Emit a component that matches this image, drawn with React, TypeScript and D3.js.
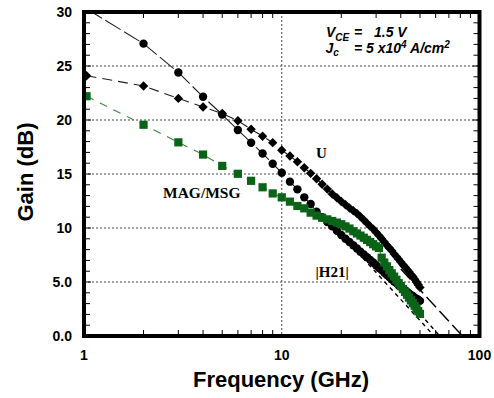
import React from "react";
import * as d3 from "d3";

// Frequency points (GHz)
const freqs = [
  1.03, 2, 3, 4, 5, 6, 7, 8, 9, 10, 11, 12, 13, 14, 15, 16, 17, 18, 19, 20, 21,
  22, 23, 24, 25, 26, 27, 28, 29, 30, 31, 32, 33, 34, 35, 36, 37, 38, 39, 40, 41,
  42, 43, 44, 45, 46, 47, 48, 49, 50,
];

// |H21| (dB) - circles
const h21 = [
  30.3, 27.07, 24.4, 22.15, 20.5, 19.07, 17.9, 16.9, 15.95, 15.12, 14.29, 13.58,
  12.84, 12.22, 11.5, 11.0, 10.55, 10.15, 9.75, 9.35, 9.0, 8.7, 8.4, 8.1, 7.8,
  7.55, 7.3, 7.05, 6.8, 6.55, 6.3, 6.1, 5.85, 5.65, 5.45, 5.25, 5.05, 4.9, 4.7,
  4.55, 4.4, 4.25, 4.1, 3.95, 3.8, 3.7, 3.55, 3.45, 3.35, 3.25,
];

// U (dB) - diamonds
const uGain = [
  24.1, 23.15, 22.0, 21.2, 20.6, 19.93, 19.14, 18.5, 17.9, 17.2, 16.67, 16.14,
  15.58, 15.06, 14.56, 14.05, 13.6, 13.15, 12.8, 12.45, 12.15, 11.85, 11.6,
  11.35, 11.05, 10.75, 10.45, 10.15, 9.9, 9.6, 9.3, 9.0, 8.7, 8.4, 8.15, 7.9,
  7.6, 7.35, 7.1, 6.85, 6.6, 6.4, 6.15, 5.95, 5.7, 5.5, 5.25, 5.0, 4.75, 4.5,
];

// MAG/MSG (dB) - green squares
const mag = [
  22.2, 19.56, 17.93, 16.8, 15.75, 15.02, 14.37, 13.77, 13.2, 12.84, 12.44,
  12.04, 11.82, 11.42, 11.15, 10.95, 10.8, 10.65, 10.5, 10.35, 10.15, 9.95, 9.7,
  9.5, 9.3, 9.1, 8.9, 8.7, 8.5, 8.3, 8.15, 7.25, 6.8, 6.45, 6.1, 5.8, 5.5, 5.2,
  4.9, 4.62, 4.35, 4.08, 3.82, 3.56, 3.3, 3.05, 2.8, 2.55, 2.3, 2.05,
];

// -20 dB/dec extrapolation lines [freq, gain]
const uFit: [number, number][] = [[40, 6.2], [82, 0]];
const h21Fit: [number, number][] = [[20, 9.4], [59, 0]];
const magFit: [number, number][] = [[50, 2.05], [63, 0]];

const yTicks = [0, 5, 10, 15, 20, 25, 30];
const yTickLabels = ["0.0", "5.0", "10", "15", "20", "25", "30"];
const yGrid = [5, 10, 15, 20, 25];
const xTicks = [1, 10, 100];
const xMinor = [2, 3, 4, 5, 6, 7, 8, 9, 20, 30, 40, 50, 60, 70, 80, 90];
const yMinor = d3.range(1, 30).filter((v) => v % 5 !== 0);

const GREEN = "#0b6318";

const App = () => {
  const width = 494;
  const height = 398;
  const left = 84;
  const right = 479.5;
  const top = 12;
  const bottom = 336;

  const x = d3.scaleLog().domain([1, 100]).range([left, right]);
  const y = d3.scaleLinear().domain([0, 30]).range([bottom, top]);

  const pts = (vals: number[]) => freqs.map((f, i) => [f, vals[i]] as [number, number]);
  const line = d3
    .line<[number, number]>()
    .x((d) => x(d[0]))
    .y((d) => y(d[1]));

  const diamond = d3.symbol().type(d3.symbolSquare).size(44)();
  const font = "Arial, 'Liberation Sans', sans-serif";
  const serif = "'Times New Roman', 'Liberation Serif', serif";
  const sq = 8.2;

  return (
    <div style={{ position: "absolute", left: 0, top: 0 }}>
      <svg width={width} height={height} style={{ display: "block", background: "#fff" }}>
        <defs>
          <clipPath id="plot">
            <rect x={left} y={top} width={right - left} height={bottom - top} />
          </clipPath>
        </defs>

        {/* grid */}
        {yGrid.map((g) => (
          <line key={`gy${g}`} x1={left} x2={right} y1={y(g)} y2={y(g)} stroke="#444" strokeDasharray="2 2" />
        ))}
        <line x1={x(10)} x2={x(10)} y1={top} y2={bottom} stroke="#444" strokeDasharray="2 2" />

        {/* minor ticks */}
        {yMinor.map((v) => (
          <g key={`ym${v}`}>
            <line x1={left} x2={left + 6} y1={y(v)} y2={y(v)} stroke="#000" />
            <line x1={right - 6} x2={right} y1={y(v)} y2={y(v)} stroke="#000" />
          </g>
        ))}
        {yGrid.map((v) => (
          <g key={`yM${v}`}>
            <line x1={left} x2={left + 7} y1={y(v)} y2={y(v)} stroke="#000" />
            <line x1={right - 7} x2={right} y1={y(v)} y2={y(v)} stroke="#000" />
          </g>
        ))}
        {xMinor.map((v) => (
          <g key={`xm${v}`}>
            <line x1={x(v)} x2={x(v)} y1={bottom} y2={bottom - 6} stroke="#000" />
            <line x1={x(v)} x2={x(v)} y1={top} y2={top + 6} stroke="#000" />
          </g>
        ))}

        <g clipPath="url(#plot)">
          {/* connecting lines */}
          <path d={line(pts(h21)) || ""} fill="none" stroke="#222" strokeWidth={1.1} strokeDasharray="18 4" />
          <path d={line(pts(uGain)) || ""} fill="none" stroke="#222" strokeWidth={1.1} strokeDasharray="10 6" />
          <path d={line(pts(mag)) || ""} fill="none" stroke="#3b8b3b" strokeWidth={1.1} strokeDasharray="8 7" />

          {/* extrapolations */}
          <path d={line(uFit) || ""} fill="none" stroke="#000" strokeWidth={1.4} strokeDasharray="14 5" />
          <path d={line(h21Fit) || ""} fill="none" stroke="#000" strokeWidth={1.4} strokeDasharray="4 4" />
          <path d={line(magFit) || ""} fill="none" stroke="#000" strokeWidth={1.4} strokeDasharray="4 4" />

          {/* U diamonds */}
          {freqs.map((f, i) => (
            <path key={`u${i}`} d={diamond || ""} transform={`translate(${x(f)},${y(uGain[i])}) rotate(45)`} fill="#000" />
          ))}
          {/* H21 circles */}
          {freqs.map((f, i) => (
            <circle key={`h${i}`} cx={x(f)} cy={y(h21[i])} r={4.2} fill="#000" />
          ))}
          {/* MAG/MSG squares */}
          {freqs.map((f, i) => (
            <rect key={`m${i}`} x={x(f) - sq / 2} y={y(mag[i]) - sq / 2} width={sq} height={sq} fill={GREEN} />
          ))}
        </g>

        {/* frame */}
        <rect x={left} y={top} width={right - left} height={bottom - top} fill="none" stroke="#000" strokeWidth={4} />

        {/* tick labels */}
        {yTicks.map((v, i) => (
          <text key={`yl${v}`} x={72} y={y(v)} dy="0.36em" textAnchor="end" fontFamily={font} fontWeight="bold" fontSize={14}>
            {yTickLabels[i]}
          </text>
        ))}
        {xTicks.map((v) => (
          <text key={`xl${v}`} x={x(v)} y={360} textAnchor="middle" fontFamily={font} fontWeight="bold" fontSize={14}>
            {v}
          </text>
        ))}

        {/* axis titles */}
        <text x={281} y={387} textAnchor="middle" fontFamily={font} fontWeight="bold" fontSize={22}>
          Frequency (GHz)
        </text>
        <text transform="translate(33,172) rotate(-90)" textAnchor="middle" fontFamily={font} fontWeight="bold" fontSize={22}>
          Gain (dB)
        </text>

        {/* annotations */}
        <text x={326} y={36.7} fontFamily={font} fontWeight="bold" fontStyle="italic" fontSize={14}>
          V<tspan fontSize={10} dy={4}>CE</tspan>
          <tspan x={354} dy={-4}>=</tspan>
          <tspan x={374}>1.5 V</tspan>
        </text>
        <text x={325.5} y={53.3} fontFamily={font} fontWeight="bold" fontStyle="italic" fontSize={14}>
          J<tspan fontSize={10} dy={3}>c</tspan>
          <tspan x={354} dy={-3}>= 5 x10</tspan>
          <tspan fontSize={10} dy={-5}>4</tspan>
          <tspan dy={5}> A/cm</tspan>
          <tspan fontSize={10} dy={-5}>2</tspan>
        </text>
        <text x={316} y={158} fontFamily={serif} fontWeight="bold" fontSize={15}>
          U
        </text>
        <text x={163} y={197.5} fontFamily={serif} fontWeight="bold" fontSize={15.5}>
          MAG/MSG
        </text>
        <text x={315.5} y={277} fontFamily={serif} fontWeight="bold" fontSize={15}>
          |H21|
        </text>
      </svg>
    </div>
  );
};

export default App;
